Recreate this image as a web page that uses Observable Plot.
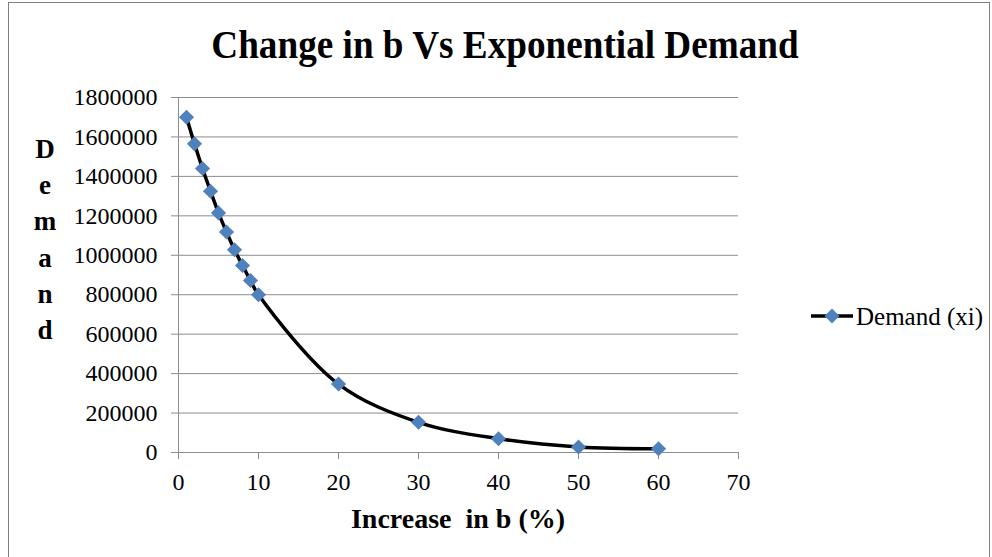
<!DOCTYPE html>
<html>
<head>
<meta charset="utf-8">
<script src="https://cdn.jsdelivr.net/npm/d3@7"></script>
<script src="https://cdn.jsdelivr.net/npm/@observablehq/plot@0.6"></script>
<style>
  html, body { margin: 0; padding: 0; background: #fff; }
  #chart { position: relative; width: 992px; height: 557px; overflow: hidden; background: #fff;
           font-family: "Liberation Serif", "Times New Roman", serif; color: #000; }
  #frame { position: absolute; left: 8px; top: 2px; width: 982px; height: 580px;
           border: 1.5px solid #7f7f7f; box-sizing: border-box; }
  #plot { position: absolute; left: 0; top: 0; }
  .title { position: absolute; left: 505px; top: 25px; transform: translateX(-50%) scaleX(0.93);
           font-size: 40px; font-weight: bold; line-height: 1; white-space: nowrap; }
  .xlabel { position: absolute; left: 458px; top: 505px; transform: translateX(-50%);
            font-size: 28px; font-weight: bold; line-height: 1; white-space: pre; }
  .ylabel { position: absolute; left: 45px; top: 131px; transform: translateX(-50%);
            font-size: 27px; font-weight: bold; line-height: 36.2px; text-align: center; }
  .legend { position: absolute; left: 810px; top: 303px; display: flex; align-items: center;
            font-size: 25px; line-height: 1; white-space: nowrap; }
  .legend svg { margin-right: 2px; }
</style>
</head>
<body>
<div id="chart">
  <div id="frame"></div>
  <div id="plot"></div>
  <div class="title">Change in b Vs Exponential Demand</div>
  <div class="ylabel">D<br>e<br>m<br>a<br>n<br>d</div>
  <div class="xlabel">Increase  in b (%)</div>
  <div class="legend">
    <svg width="44" height="26" viewBox="0 0 44 26">
      <line x1="1" y1="13" x2="43" y2="13" stroke="#000" stroke-width="3.5"></line>
      <path d="M22,5.5 L29.5,13 L22,20.5 L14.5,13 Z" fill="#4f81bd"></path>
    </svg>
    <span>Demand (xi)</span>
  </div>
</div>
<script>
// Increase in b (%) and the resulting exponential demand
const increase = [1, 2, 3, 4, 5, 6, 7, 8, 9, 10, 20, 30, 40, 50, 60];
const demand = [1700000, 1565000, 1440000, 1325000, 1215000, 1118000, 1028000, 948000,
                872000, 800000, 347000, 153000, 70000, 28000, 19000];

// Axis tick values
const xTicks = [0, 10, 20, 30, 40, 50, 60, 70];
const yTicks = [0, 200000, 400000, 600000, 800000, 1000000, 1200000, 1400000, 1600000, 1800000];

const rows = increase.map((b, i) => ({b, demand: demand[i]}));
const gray = "#8c8c8c";

const chart = Plot.plot({
  width: 992,
  height: 557,
  marginLeft: 178,
  marginRight: 254,
  marginTop: 97,
  marginBottom: 105,
  style: {
    fontFamily: "'Liberation Serif', 'Times New Roman', serif",
    fontSize: "24px",
    color: "#000",
    background: "transparent",
    overflow: "visible"
  },
  x: {domain: [0, 70]},
  y: {domain: [0, 1800000]},
  marks: [
    Plot.gridY(yTicks, {stroke: gray, strokeOpacity: 1, strokeWidth: 1}),
    Plot.ruleX([0], {stroke: gray, strokeWidth: 1}),
    Plot.ruleY([0], {stroke: gray, strokeWidth: 1}),
    Plot.axisY(yTicks, {tickSize: 7, tickPadding: 14, stroke: gray, fill: "#000",
                        label: null, tickFormat: d3.format("d")}),
    Plot.axisX(xTicks, {tickSize: 7, tickPadding: 13, stroke: gray, fill: "#000",
                        label: null, tickFormat: d3.format("d")}),
    Plot.line(rows, {x: "b", y: "demand", curve: "catmull-rom", stroke: "#000", strokeWidth: 3.5}),
    Plot.dot(rows, {x: "b", y: "demand", symbol: "diamond2", r: 6.8, fill: "#4f81bd", stroke: "none"})
  ]
});
document.getElementById("plot").appendChild(chart);
</script>
</body>
</html>
